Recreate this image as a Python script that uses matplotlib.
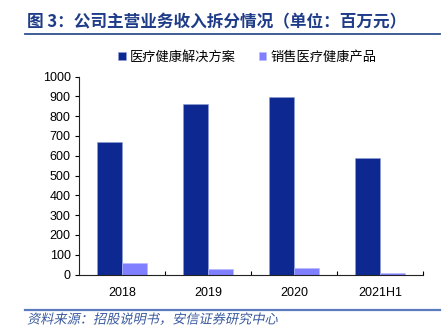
import matplotlib
matplotlib.use("Agg")
import matplotlib.pyplot as plt
import numpy as np
from matplotlib.patheffects import AbstractPathEffect
from matplotlib.transforms import Affine2D
from matplotlib.lines import Line2D

plt.rcParams['font.family'] = ['Noto Sans CJK SC', 'DejaVu Sans']

# Revenue breakdown (million CNY)
categories = ['2018', '2019', '2020', '2021H1']
solutions = [668, 861, 894, 587]      # 医疗健康解决方案
products = [57, 26, 33, 7]             # 销售医疗健康产品
series_names = ['医疗健康解决方案', '销售医疗健康产品']
yticks = [0, 100, 200, 300, 400, 500, 600, 700, 800, 900, 1000]

DARK = '#0D2890'
LIGHT = '#7F7FFF'
BLUE_TEXT = '#1F3C88'


class Slant(AbstractPathEffect):
    """Shear glyph outlines about the text origin to draw an oblique face."""

    def __init__(self, deg=12):
        super().__init__()
        self.deg = deg

    def draw_path(self, renderer, gc, tpath, affine, rgbFace=None):
        m = affine.get_matrix()
        tx, ty = m[0, 2], m[1, 2]
        shear = Affine2D().translate(-tx, -ty).skew_deg(self.deg, 0).translate(tx, ty)
        renderer.draw_path(gc, tpath, affine + shear, rgbFace)


W, H = 445, 332
fig = plt.figure(figsize=(W / 100, H / 100), dpi=100)
fig.patch.set_facecolor('white')

ax = fig.add_axes([79 / W, 1 - 274.5 / H, (423 - 79) / W, (274.5 - 76.5) / H])

x = np.arange(len(categories))
bw = 0.285
ax.bar(x - bw / 2, solutions, bw, color=DARK, edgecolor='#8F9FD8', linewidth=0.4,
       label=series_names[0])
ax.bar(x + bw / 2, products, bw, color=LIGHT, edgecolor='#B8B8FF', linewidth=0.4,
       label=series_names[1])

ax.set_xlim(-0.5, len(categories) - 0.5)
ax.set_ylim(0, 1000)
ax.set_yticks(yticks)
ax.set_yticklabels([str(v) for v in yticks], family='Liberation Sans', fontsize=9)
ax.set_xticks(x)
ax.set_xticklabels(categories, family='Liberation Sans', fontsize=9)
ax.set_xticks(np.arange(len(categories)) + 0.5, minor=True)
ax.tick_params(axis='x', which='major', length=0, pad=9)
ax.tick_params(axis='x', which='minor', length=3, direction='in', width=0.8)
ax.tick_params(axis='y', length=3, direction='out', width=0.8, pad=3)
for s in ('top', 'right'):
    ax.spines[s].set_visible(False)
for s in ('left', 'bottom'):
    ax.spines[s].set_linewidth(0.8)
    ax.spines[s].set_color('#222222')

handles, labels = ax.get_legend_handles_labels()
fig.legend(handles, labels, loc='center', bbox_to_anchor=(0.556, 1 - 57 / H),
           ncol=2, frameon=False, fontsize=9.5, handlelength=0.55, handleheight=0.55,
           handletextpad=0.35, columnspacing=1.7, borderaxespad=0, borderpad=0)

# Heading and source note
fig.text(27 / W, 1 - 22 / H, '图 3：公司主营业务收入拆分情况（单位：百万元）',
         fontsize=12, fontweight='bold', color=BLUE_TEXT, va='center', ha='left')
fig.add_artist(Line2D([25 / W, 440 / W], [1 - 33.7 / H, 1 - 33.7 / H],
                      color='#2E4F8F', linewidth=1.3))
fig.add_artist(Line2D([25 / W, 440 / W], [1 - 310 / H, 1 - 310 / H],
                      color='#5B7BBE', linewidth=1.6))
src = fig.text(27 / W, 1 - 320 / H, '资料来源：招股说明书，安信证券研究中心',
               fontsize=9.5, color='#3A5A9E', va='center', ha='left')
src.set_path_effects([Slant(12)])

fig.savefig('out.png', dpi=100, facecolor='white')
